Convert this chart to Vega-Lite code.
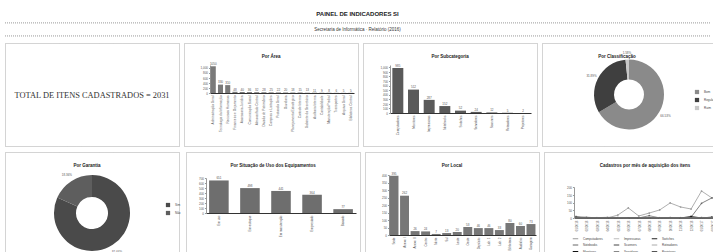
{
"$schema":"https://vega.github.io/schema/vega-lite/v6.json",
"padding":{"left":4,"top":4,"right":4,"bottom":0},
"background":"#ffffff",
"spacing":2,
"resolve":{"scale":{"color":"independent"},"legend":{"color":"independent"}},
"config":{
 "font":"Liberation Sans",
 "view":{"stroke":"#a8a8a8","strokeDash":[1,1],"strokeWidth":1},
 "title":{"fontSize":4.5,"fontWeight":"bold","color":"#222","anchor":"middle","offset":-15},
 "axis":{"labelFontSize":3,"labelColor":"#555","title":null,"grid":false,"domainColor":"#999","tickColor":"#999","tickSize":1.5,"labelPadding":1},
 "axisX":{"domainColor":"#333","ticks":false,"labelAngle":-90,"labelPadding":2},
 "legend":{"labelFontSize":3,"labelColor":"#444","symbolSize":18,"rowPadding":2},
 "text":{"fontSize":3,"color":"#555"}
},
"vconcat":[
 {"width":705,"height":36,"view":{"stroke":null},
  "layer":[
   {"data":{"values":[{"pos":2.1},{"pos":3.55}]},"mark":{"type":"rule","color":"#999","strokeDash":[1,1]},
    "encoding":{"y":{"field":"pos","type":"quantitative","scale":{"domain":[0,4],"range":[0,36],"nice":false},"axis":null}}},
   {"data":{"values":[{"pos":1.1,"txt":"PAINEL DE INDICADORES SI"}]},"mark":{"type":"text","fontSize":6,"fontWeight":"bold","color":"#222"},
    "encoding":{"y":{"field":"pos","type":"quantitative"},"text":{"field":"txt"}}},
   {"data":{"values":[{"pos":2.9,"txt":"Secretaria de Informática · Relatório (2016)"}]},"mark":{"type":"text","fontSize":4.5,"color":"#333"},
    "encoding":{"y":{"field":"pos","type":"quantitative"},"text":{"field":"txt"}}}
  ]},
 {"spacing":4,
  "resolve":{"scale":{"color":"independent"},"legend":{"color":"independent"}},
  "vconcat":[
  {"spacing":3,
   "resolve":{"scale":{"color":"independent"},"legend":{"color":"independent"}},
   "hconcat":[
   {"width":174,"height":103,"view":{"stroke":"#a8a8a8","strokeDash":[1,1]},
    "data":{"values":[{"rotulo":"TOTAL DE ITENS CADASTRADOS = 2031"}]},
    "mark":{"type":"text","font":"Liberation Serif","fontSize":8.4,"color":"#333"},
    "encoding":{"text":{"field":"rotulo"}}},
   {"width":174,"height":103,"title":{"text":"Por Área"},
    "data":{"values":[
     {"area":"Administração Geral","qtd":1050},
     {"area":"Tecnologia da Informação","qtd":330},
     {"area":"Recursos Humanos","qtd":310},
     {"area":"Financeiro e Orçamento","qtd":48},
     {"area":"Assessoria Jurídica","qtd":40},
     {"area":"Comunicação Social","qtd":36},
     {"area":"Almoxarifado Central","qtd":32},
     {"area":"Divisão de Patrimônio","qtd":28},
     {"area":"Compras e Licitações","qtd":25},
     {"area":"Protocolo Geral","qtd":22},
     {"area":"Ouvidoria","qtd":20},
     {"area":"Planejamento Estratégico","qtd":18},
     {"area":"Controle Interno","qtd":15},
     {"area":"Gabinete do Secretário","qtd":13},
     {"area":"Auditoria Interna","qtd":11},
     {"area":"Contabilidade","qtd":9},
     {"area":"Manutenção Predial","qtd":8},
     {"area":"Transportes","qtd":6},
     {"area":"Arquivo Geral","qtd":5},
     {"area":"Biblioteca Central","qtd":5}]},
    "encoding":{
     "x":{"field":"area","type":"nominal","sort":null,"scale":{"range":[26,170],"paddingInner":0.3,"paddingOuter":0.1},"axis":{"offset":-53,"labelLimit":46,"labelFontSize":3.2}},
     "y":{"field":"qtd","type":"quantitative","scale":{"domain":[0,1100],"range":[50,22],"nice":false},"axis":{"offset":-26,"tickCount":6}}},
    "layer":[
     {"mark":{"type":"bar","color":"#7a7a7a"}},
     {"mark":{"type":"text","dy":-2.5},"encoding":{"text":{"field":"qtd"}}}]},
   {"width":174,"height":103,"title":{"text":"Por Subcategoria"},
    "data":{"values":[
     {"sub":"Computadores","qtd":985},
     {"sub":"Monitores","qtd":512},
     {"sub":"Impressoras","qtd":287},
     {"sub":"Notebooks","qtd":152},
     {"sub":"Switches","qtd":52},
     {"sub":"Servidores","qtd":24},
     {"sub":"Scanners","qtd":12},
     {"sub":"Roteadores","qtd":5},
     {"sub":"Projetores","qtd":2}]},
    "encoding":{
     "x":{"field":"sub","type":"nominal","sort":null,"scale":{"range":[27,168],"paddingInner":0.3,"paddingOuter":0.15},"axis":{"offset":-33,"labelLimit":30}},
     "y":{"field":"qtd","type":"quantitative","scale":{"domain":[0,1050],"range":[70,22],"nice":false},"axis":{"offset":-27,"tickCount":11}}},
    "layer":[
     {"mark":{"type":"bar","color":"#5a5a5a"}},
     {"mark":{"type":"text","dy":-2.5},"encoding":{"text":{"field":"qtd"}}}]},
   {"width":174,"height":103,"view":{"stroke":"#a8a8a8","strokeDash":[1,1]},"title":{"text":"Por Classificação","dx":-12},
    "data":{"values":[
     {"classe":"Bom","pct":0.6653,"ordem":1},
     {"classe":"Regular","pct":0.3189,"ordem":2},
     {"classe":"Ruim","pct":0.0158,"ordem":3}]},
    "encoding":{
     "theta":{"field":"pct","type":"quantitative","stack":true},
     "order":{"field":"ordem","type":"quantitative"}},
    "layer":[
     {"mark":{"type":"arc","innerRadius":15,"outerRadius":35},
      "encoding":{"color":{"field":"classe","type":"nominal","sort":null,"scale":{"domain":["Bom","Regular","Ruim"],"range":["#8a8a8a","#3f3f3f","#c8c8c8"]},
        "legend":{"orient":"none","legendX":152,"legendY":46,"title":null,"symbolType":"square"}}}},
     {"mark":{"type":"text","radius":42},"encoding":{"text":{"field":"pct","type":"quantitative","format":".2%"}}}]}
  ]},
  {"spacing":3,
   "resolve":{"scale":{"color":"independent"},"legend":{"color":"independent"}},
   "hconcat":[
   {"width":174,"height":122,"view":{"stroke":"#a8a8a8","strokeDash":[1,1]},"title":{"text":"Por Garantia","dx":-5},
    "data":{"values":[
     {"garantia":"Sim","pct":0.8164,"ordem":1},
     {"garantia":"Não","pct":0.1836,"ordem":2}]},
    "encoding":{
     "theta":{"field":"pct","type":"quantitative","stack":true},
     "order":{"field":"ordem","type":"quantitative"}},
    "layer":[
     {"mark":{"type":"arc","innerRadius":16,"outerRadius":38},
      "encoding":{"color":{"field":"garantia","type":"nominal","sort":null,"scale":{"domain":["Sim","Não"],"range":["#4a4a4a","#5e5e5e"]},
        "legend":{"orient":"none","legendX":160,"legendY":50,"title":null,"symbolType":"square"}}}},
     {"mark":{"type":"text","radius":46},"encoding":{"text":{"field":"pct","type":"quantitative","format":".2%"}}}]},
   {"width":174,"height":122,"title":{"text":"Por Situação de Uso dos Equipamentos"},
    "data":{"values":[
     {"situacao":"Em uso","qtd":651},
     {"situacao":"Em estoque","qtd":498},
     {"situacao":"Em manutenção","qtd":441},
     {"situacao":"Emprestado","qtd":364},
     {"situacao":"Baixado","qtd":77}]},
    "encoding":{
     "x":{"field":"situacao","type":"nominal","sort":null,"scale":{"range":[20,170],"paddingInner":0.37,"paddingOuter":0.1},"axis":{"offset":-61,"labelLimit":34}},
     "y":{"field":"qtd","type":"quantitative","scale":{"domain":[0,700],"range":[61,26],"nice":false},"axis":{"offset":-20,"tickCount":8}}},
    "layer":[
     {"mark":{"type":"bar","color":"#6e6e6e"}},
     {"mark":{"type":"text","dy":-2.5},"encoding":{"text":{"field":"qtd"}}}]},
   {"width":174,"height":122,"title":{"text":"Por Local"},
    "data":{"values":[
     {"local":"Sede","qtd":395},
     {"local":"Anexo I","qtd":262},
     {"local":"Anexo II","qtd":26},
     {"local":"Centro","qtd":24},
     {"local":"Norte","qtd":7},
     {"local":"Sul","qtd":13},
     {"local":"Leste","qtd":20},
     {"local":"Oeste","qtd":53},
     {"local":"Depósito","qtd":46},
     {"local":"Lab. 1","qtd":46},
     {"local":"Lab. 2","qtd":33},
     {"local":"Biblioteca","qtd":80},
     {"local":"Auditório","qtd":60},
     {"local":"Garagem","qtd":73}]},
    "encoding":{
     "x":{"field":"local","type":"nominal","sort":null,"scale":{"range":[24,171],"paddingInner":0.15,"paddingOuter":0.05},"axis":{"offset":-39,"labelLimit":15}},
     "y":{"field":"qtd","type":"quantitative","scale":{"domain":[0,400],"range":[83,23],"nice":false},"axis":{"offset":-24,"tickCount":8}}},
    "layer":[
     {"mark":{"type":"bar","color":"#777777"}},
     {"mark":{"type":"text","dy":-2.5},"encoding":{"text":{"field":"qtd"}}}]},
   {"width":174,"height":122,"title":{"text":"Cadastros por mês de aquisição dos itens","dx":14},
    "data":{"values":[
     {"mes":"01/2016","Computadores":10,"Notebooks":0,"Monitores":6,"Impressoras":3,"Scanners":0,"Servidores":0,"Switches":0,"Roteadores":0,"Projetores":0},
     {"mes":"02/2016","Computadores":6,"Notebooks":0,"Monitores":0,"Impressoras":2,"Scanners":0,"Servidores":0,"Switches":0,"Roteadores":0,"Projetores":0},
     {"mes":"03/2016","Computadores":0,"Notebooks":0,"Monitores":0,"Impressoras":2,"Scanners":0,"Servidores":1,"Switches":0,"Roteadores":0,"Projetores":0},
     {"mes":"04/2016","Computadores":0,"Notebooks":0,"Monitores":0,"Impressoras":5,"Scanners":0,"Servidores":0,"Switches":0,"Roteadores":0,"Projetores":0},
     {"mes":"05/2016","Computadores":19,"Notebooks":0,"Monitores":0,"Impressoras":4,"Scanners":0,"Servidores":0,"Switches":0,"Roteadores":0,"Projetores":0},
     {"mes":"06/2016","Computadores":65,"Notebooks":0,"Monitores":0,"Impressoras":0,"Scanners":0,"Servidores":0,"Switches":0,"Roteadores":0,"Projetores":0},
     {"mes":"07/2016","Computadores":13,"Notebooks":0,"Monitores":0,"Impressoras":2,"Scanners":0,"Servidores":0,"Switches":0,"Roteadores":0,"Projetores":0},
     {"mes":"08/2016","Computadores":32,"Notebooks":15,"Monitores":0,"Impressoras":8,"Scanners":0,"Servidores":0,"Switches":0,"Roteadores":0,"Projetores":0},
     {"mes":"09/2016","Computadores":52,"Notebooks":0,"Monitores":0,"Impressoras":3,"Scanners":0,"Servidores":0,"Switches":0,"Roteadores":0,"Projetores":0},
     {"mes":"10/2016","Computadores":97,"Notebooks":0,"Monitores":3,"Impressoras":1,"Scanners":0,"Servidores":0,"Switches":0,"Roteadores":0,"Projetores":0},
     {"mes":"11/2016","Computadores":71,"Notebooks":0,"Monitores":0,"Impressoras":2,"Scanners":0,"Servidores":0,"Switches":0,"Roteadores":0,"Projetores":0},
     {"mes":"12/2016","Computadores":58,"Notebooks":5,"Monitores":10,"Impressoras":0,"Scanners":0,"Servidores":0,"Switches":0,"Roteadores":0,"Projetores":0},
     {"mes":"01/2017","Computadores":174,"Notebooks":95,"Monitores":0,"Impressoras":4,"Scanners":0,"Servidores":0,"Switches":0,"Roteadores":0,"Projetores":0},
     {"mes":"02/2017","Computadores":129,"Notebooks":130,"Monitores":6,"Impressoras":2,"Scanners":0,"Servidores":0,"Switches":0,"Roteadores":0,"Projetores":0}]},
    "transform":[{"fold":["Computadores","Notebooks","Monitores","Impressoras","Scanners","Servidores","Switches","Roteadores","Projetores"],"as":["serie","qtd"]}],
    "mark":{"type":"line","strokeWidth":0.8,"point":{"size":3,"filled":true}},
    "encoding":{
     "x":{"field":"mes","type":"ordinal","sort":null,"scale":{"type":"point","range":[32,168],"padding":0},"axis":{"offset":-56,"labelLimit":20}},
     "y":{"field":"qtd","type":"quantitative","scale":{"domain":[0,200],"range":[66,35],"nice":false},"axis":{"offset":-30,"tickCount":4}},
     "color":{"field":"serie","type":"nominal","sort":null,
      "scale":{"domain":["Computadores","Notebooks","Monitores","Impressoras","Scanners","Servidores","Switches","Roteadores","Projetores"],"range":["#9a9a9a","#666666","#111111","#bcbcbc","#444444","#888888","#222222","#aaaaaa","#555555"]},
      "legend":{"orient":"none","legendX":28,"legendY":83,"title":null,"columns":3,"columnPadding":8,"rowPadding":0.5,"symbolType":"stroke","symbolSize":30,"symbolStrokeWidth":1,"labelLimit":40}}}}
  ]}
 ]}
]
}
